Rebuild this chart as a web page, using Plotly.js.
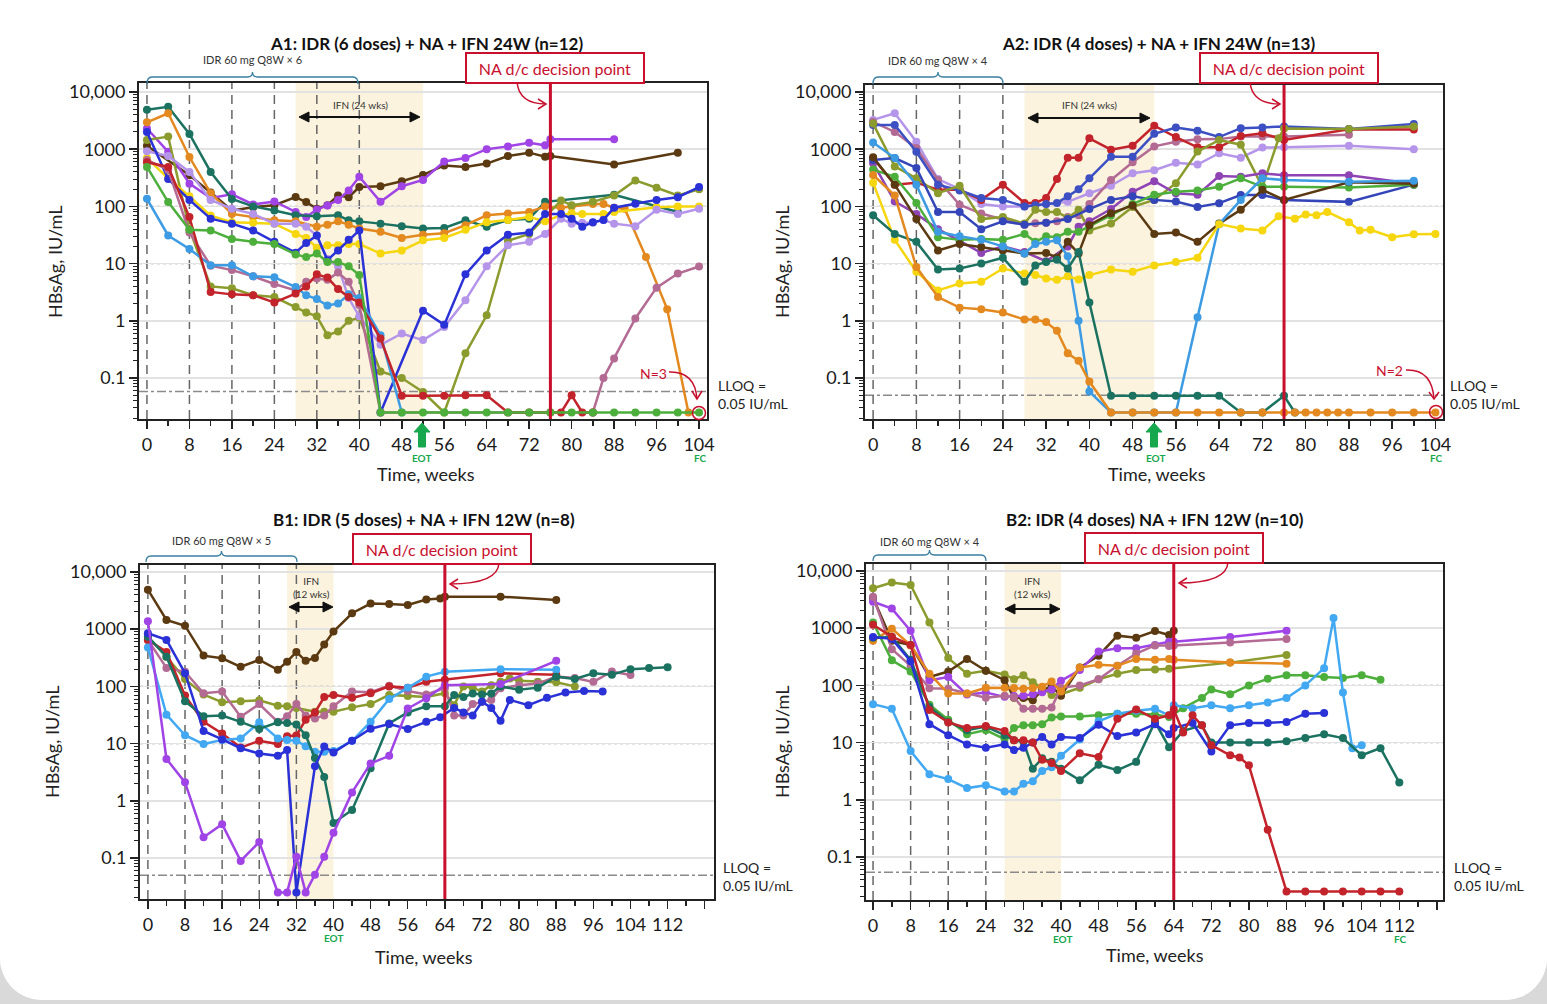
<!DOCTYPE html>
<html><head><meta charset="utf-8">
<script src="https://cdn.plot.ly/plotly-3.0.1.min.js"></script>
<style>
html,body{margin:0;padding:0;background:#d9d9d9;}
#card{width:1547px;height:1000px;overflow:hidden;border-radius:0 0 42px 42px;background:#fff;}
#plot{width:1547px;height:1004px;}
</style></head><body>
<div id="card"><div id="plot"></div></div>
<script>
// ---------------- DATA (week, HBsAg IU/mL) ----------------
// Panel A1
const a1Teal = [[0,4900],[4,5500],[8,1850],[12,400],[16,135],[20,100],[24,85],[28,70],[32,67],[36,70],[38,57],[40,55],[44,50],[48,45],[52,41],[56,42],[60,57],[64,44],[68,58],[72,61],[75,120],[88,160],[100,80]];
const a1Orange = [[0,2950],[4,4250],[8,730],[12,170],[16,74],[20,65],[24,57],[28,55],[32,44],[34,48],[36,55],[38,48],[40,41],[44,36],[48,28],[52,32],[56,34],[60,47],[64,70],[68,75],[72,80],[75,100],[78,95],[80,100],[84,110],[86,110],[88,95],[90,91],[94,13],[98,1.6],[102,0.025]];
const a1Purple = [[0,2300],[4,900],[8,250],[12,140],[16,163],[20,108],[24,122],[28,80],[30,65],[32,88],[34,104],[36,130],[38,190],[40,330],[44,120],[48,225],[52,290],[56,610],[60,700],[64,1000],[68,1120],[72,1300],[75,1170],[76,1490],[88,1490]];
const a1Olive = [[0,1450],[4,1660],[8,40],[12,4.0],[16,3.7],[20,2.8],[24,2.6],[28,1.75],[30,1.4],[32,1.2],[34,0.56],[36,0.65],[38,1.0],[40,1.13],[44,0.13],[48,0.1],[52,0.057],[56,0.025],[60,0.27],[64,1.25],[68,25],[72,33],[78,127],[80,105],[84,120],[88,155],[92,285],[96,212],[100,155],[104,200]];
const a1Brown = [[0,1150],[8,350],[12,175],[16,85],[20,97],[24,105],[28,146],[30,119],[32,91],[34,105],[36,155],[38,145],[40,218],[44,225],[48,275],[52,355],[56,520],[60,490],[64,560],[68,760],[72,870],[75,740],[76,760],[88,540],[100,870]];
const a1Blue = [[0,2000],[4,300],[8,130],[12,61],[16,50],[20,38],[24,24],[28,15.5],[30,23],[32,31],[34,11.5],[36,17],[38,26],[40,38],[44,0.025],[52,1.5],[56,0.85],[60,6.5],[64,17],[68,32],[72,35],[75,74],[78,74],[80,61],[82,44],[84,53],[86,58],[88,95],[92,111],[96,130],[100,145],[104,218]];
const a1Red = [[0,590],[4,490],[8,65],[12,3.2],[16,2.9],[20,2.8],[24,2.1],[28,3.0],[30,4.0],[32,6.5],[34,5.7],[36,3.6],[38,2.6],[40,2.1],[44,0.49],[48,0.049],[52,0.049],[56,0.049],[60,0.05],[64,0.05],[68,0.025],[72,0.025],[76,0.025],[78,0.025],[80,0.05],[82,0.025],[84,0.025]];
const a1Yellow = [[0,700],[4,310],[8,150],[12,69],[16,53],[20,52],[24,50],[28,33],[30,28],[32,19],[34,21],[36,21],[38,22],[40,22],[44,15],[48,17],[52,25.5],[56,28],[60,39],[64,53],[68,58],[72,65],[75,55],[78,70],[80,76],[82,74],[86,74],[88,80],[96,97],[100,100],[104,100]];
const a1Lavender = [[0,920],[4,760],[8,400],[12,130],[16,91],[20,74],[24,50],[28,50],[30,44],[32,31],[34,12],[36,9],[38,2.5],[40,1.2],[44,0.38],[48,0.6],[52,0.46],[56,0.78],[60,2.3],[64,9],[68,21],[72,24],[75,33],[78,61],[80,50],[82,52],[84,52],[86,58],[88,50],[92,45],[96,87],[100,74],[104,91]];
const a1LightBlue = [[0,136],[4,31],[8,18],[12,9.4],[16,9.4],[20,6.0],[24,5.8],[28,3.9],[30,2.8],[32,2.4],[34,1.85],[36,2.0],[38,2.9],[40,2.5],[44,0.56],[48,0.025]];
const a1Mauve = [[0,650],[4,435],[8,35],[12,9.2],[16,7.7],[20,6],[24,4.4],[28,3.4],[30,4.8],[32,5.5],[34,5.2],[36,7.0],[38,4.8],[40,1.9],[44,0.025],[84,0.025],[86,0.1],[88,0.22],[92,1.1],[96,3.8],[100,6.7],[104,8.9]];
const a1Green = [[0,490],[4,119],[8,39],[12,38],[16,27],[20,24],[24,22],[28,14.5],[30,13],[32,15],[34,10.7],[36,10.7],[38,9],[40,6.3],[44,0.025],[48,0.025],[52,0.025],[56,0.025],[60,0.025],[64,0.025],[68,0.025],[72,0.025],[76,0.025],[80,0.025],[84,0.025],[88,0.025],[92,0.025],[96,0.025],[100,0.025],[104,0.025]];
// Panel A2
const a2Red = [[0,700],[4,240],[8,260],[12,195],[16,195],[20,130],[24,240],[28,115],[30,115],[32,140],[34,300],[36,710],[38,710],[40,1550],[44,980],[48,1150],[52,2570],[56,1630],[60,1080],[64,1080],[68,1700],[72,1900],[76,1450],[88,2230],[100,2200]];
const a2Blue1 = [[0,2650],[4,2650],[8,900],[12,240],[16,190],[20,140],[24,130],[28,100],[30,105],[32,110],[34,115],[36,150],[38,200],[40,310],[44,740],[48,740],[52,1860],[56,2400],[60,2100],[64,1630],[68,2330],[72,2400],[76,2500],[88,2250],[100,2770]];
const a2Blue2 = [[0,650],[4,700],[8,470],[12,80],[16,80],[20,40],[24,55],[28,48],[32,52],[36,60],[40,90],[44,130],[48,150],[52,130],[56,122],[60,98],[64,114],[68,158],[72,158],[76,130],[88,120],[100,240]];
const a2Mauve = [[0,3000],[4,2000],[8,1050],[12,290],[16,107],[20,75],[24,59],[28,48],[30,51],[32,52],[34,55],[36,65],[38,70],[40,110],[44,290],[48,590],[52,1120],[56,1350],[60,1490],[64,1500],[68,1660],[72,1660],[76,1660],[88,1780]];
const a2Lavender = [[0,3250],[4,4250],[8,1350],[12,300],[16,200],[20,110],[24,100],[28,100],[32,110],[36,120],[40,170],[44,230],[48,380],[52,430],[56,580],[60,540],[64,850],[68,710],[72,1070],[76,1080],[88,1150],[100,1000]];
const a2Olive = [[0,2800],[4,500],[8,310],[12,170],[16,230],[20,60],[24,65],[28,50],[30,87],[32,80],[34,80],[36,63],[38,87],[40,38],[44,50],[48,98],[52,130],[56,255],[60,910],[64,1450],[68,1200],[72,220],[75,1550],[76,2300],[88,2250],[100,2500]];
const a2Purple = [[0,570],[4,122],[8,74],[12,40],[16,25],[20,15.4],[24,20],[28,16],[32,11],[36,20],[38,44],[40,55],[44,90],[48,180],[52,275],[56,170],[60,160],[64,340],[68,330],[72,380],[76,350],[88,350],[100,250]];
const a2LightBlue = [[0,1310],[4,700],[8,240],[12,36],[16,30],[20,26],[24,20],[28,15],[30,22],[32,24],[34,25.5],[36,13.5],[38,1.0],[40,0.058],[44,0.025],[48,0.025],[52,0.025],[56,0.025],[60,1.15],[64,49],[68,130],[72,310],[76,290],[88,270],[100,280]];
const a2Green = [[0,440],[4,330],[8,115],[12,29],[16,26],[20,27],[24,26],[28,33],[30,24],[32,30],[34,29],[36,36],[38,36],[40,45],[44,69],[48,110],[52,160],[56,180],[60,190],[64,220],[68,310],[72,220],[76,220],[88,215],[100,240]];
const a2Brown = [[0,720],[4,240],[8,60],[12,17],[16,22],[20,19.5],[24,17],[28,15],[32,15.4],[34,12.8],[36,24],[38,15],[40,47],[44,76],[48,104],[52,33],[56,35],[60,24],[64,50],[68,87],[72,195],[76,130],[88,265],[100,250]];
const a2Teal = [[0,70],[4,33],[8,24],[12,7.9],[16,8.2],[20,10],[24,12.7],[28,4.8],[30,9.3],[32,10.7],[34,11.7],[36,8.2],[38,16],[40,2.1],[44,0.049],[48,0.049],[52,0.049],[56,0.049],[60,0.049],[64,0.049],[68,0.025],[72,0.025],[76,0.049],[78,0.025]];
const a2Yellow = [[0,260],[4,26],[8,7.2],[12,3.4],[16,4.5],[20,4.8],[24,8.2],[28,6.7],[30,6.3],[32,5.5],[34,5.2],[36,6.0],[38,5.3],[40,6.3],[44,7.9],[48,7.2],[52,9.3],[56,10.7],[60,12.7],[64,49],[68,41],[72,38],[75,67],[78,61],[80,72],[82,70],[84,80],[88,53],[90,38],[92,39],[96,29],[100,32.5],[104,33]];
const a2Orange = [[0,355],[4,155],[8,8.7],[12,2.6],[16,1.7],[20,1.6],[24,1.4],[28,1.05],[30,1.05],[32,0.95],[34,0.67],[36,0.27],[38,0.2],[40,0.087],[44,0.025],[48,0.025],[52,0.025],[56,0.025],[60,0.025],[64,0.025],[68,0.025],[72,0.025],[76,0.025],[78,0.025],[80,0.025],[82,0.025],[84,0.025],[86,0.025],[88,0.025],[92,0.025],[96,0.025],[100,0.025],[104,0.025]];
// Panel B1
const b1Brown = [[0,4900],[4,1450],[8,1150],[12,345],[16,310],[20,220],[24,290],[28,195],[30,270],[32,400],[34,280],[36,315],[38,540],[40,910],[44,1900],[48,2800],[52,2750],[56,2650],[60,3300],[63,3450],[64,3700],[76,3700],[88,3240]];
const b1Purple = [[0,1380],[4,5.4],[8,2.1],[12,0.23],[16,0.39],[20,0.089],[24,0.19],[28,0.025],[30,0.025],[32,0.105],[34,0.025],[36,0.051],[38,0.105],[40,0.275],[44,1.4],[48,4.5],[52,6.1],[56,41],[60,62],[64,105],[76,110],[88,280]];
const b1Blue = [[0,850],[4,650],[8,170],[12,16.6],[16,11.8],[20,8.3],[24,6.7],[28,6.1],[30,7.7],[32,0.025],[36,4.0],[38,8.9],[40,7.0],[44,11.2],[48,18.2],[52,22],[56,18],[60,24],[63,29],[66,42],[68,35],[70,31],[72,54],[74,42],[76,25],[78,58],[82,47],[86,63],[90,78],[94,83],[98,81]];
const b1Teal = [[0,740],[4,330],[8,55],[12,30],[16,31],[20,24],[24,18],[28,23.5],[30,23],[32,21.5],[34,14],[36,5.6],[38,2.6],[40,0.41],[44,0.69],[48,3.7],[52,22.5],[56,35],[60,45],[64,45],[66,71],[68,65],[70,75],[72,72],[74,75],[76,100],[80,87],[84,95],[88,148],[92,135],[96,170],[100,160],[104,200],[108,210],[112,215]];
const b1Red = [[0,650],[4,400],[8,69],[12,24],[16,15],[20,8.5],[24,11.2],[28,9.8],[30,13.5],[32,13.9],[34,26],[36,35],[38,65],[40,71],[44,63],[48,76],[52,100],[56,95],[60,120],[64,130],[76,170],[88,160]];
const b1LightBlue = [[0,480],[4,32],[8,14],[12,9.8],[16,11.6],[20,12.3],[24,23.5],[28,12.3],[30,11.5],[32,11.2],[34,9],[36,7.2],[38,7.2],[40,7.4],[44,11.2],[48,24],[52,60],[56,95],[60,148],[64,180],[76,200],[88,195]];
const b1Olive = [[0,740],[4,330],[8,134],[12,72],[16,53],[20,55],[24,57],[28,46],[30,45],[32,42],[36,36],[38,36],[40,36],[44,43],[48,49],[52,71],[56,68],[60,65],[64,76],[66,47],[68,100],[70,95],[72,81],[74,105],[76,120],[78,138],[80,125],[84,120],[88,118],[92,100]];
const b1Mauve = [[0,650],[4,210],[8,180],[12,76],[16,81],[20,29.5],[24,49],[28,24],[30,30],[32,49],[34,31],[36,27.5],[38,31],[40,45],[44,81],[48,79],[52,103],[56,83],[60,72],[64,93],[66,31],[68,31],[70,49],[72,54],[74,58],[76,93],[80,105],[84,112],[88,148],[92,140],[96,120],[100,182],[104,158]];
// Panel B2
const b2Olive = [[0,5000],[4,6300],[8,5700],[12,1260],[16,300],[20,160],[24,180],[28,155],[30,128],[32,150],[34,113],[36,91],[38,68],[40,70],[44,91],[48,128],[52,160],[56,185],[60,190],[63,195],[76,250],[88,340]];
const b2Brown = [[0,3400],[4,600],[8,510],[12,140],[16,175],[20,290],[24,180],[28,123],[30,61],[32,60],[34,55],[36,83],[38,96],[40,66],[44,205],[48,330],[52,740],[56,680],[60,890],[63,760],[64,900]];
const b2Purple = [[0,2900],[4,2200],[8,900],[12,123],[16,140],[20,69],[24,75],[28,63],[30,65],[32,66],[34,70],[36,76],[38,85],[40,120],[44,185],[48,390],[52,445],[56,445],[60,510],[63,580],[64,580],[76,700],[88,900]];
const b2Mauve = [[0,3560],[4,430],[8,220],[12,89],[16,87],[20,72],[24,61],[28,66],[30,62],[32,39],[34,39],[36,39],[38,41],[40,91],[44,100],[48,128],[52,220],[56,360],[60,500],[63,490],[64,500],[76,560],[88,650]];
const b2Orange = [[0,600],[4,980],[8,500],[12,160],[16,72],[20,72],[24,91],[28,91],[30,90],[32,87],[34,90],[36,95],[38,117],[40,78],[44,205],[48,230],[52,220],[56,290],[60,280],[63,290],[64,280],[76,250],[88,240]];
const b2Green = [[0,1260],[4,275],[8,175],[12,46],[16,25],[20,14],[24,16.5],[28,11.5],[30,18],[32,20],[34,20],[36,21],[38,27.5],[40,28.5],[44,28.5],[48,30],[52,32],[56,32],[60,31],[63,28],[66,40],[70,60],[72,85],[76,70],[80,100],[84,130],[88,150],[92,150],[96,140],[100,135],[104,150],[108,125]];
const b2LightBlue = [[0,47],[4,39],[8,7.1],[12,2.8],[16,2.3],[20,1.6],[24,1.8],[28,1.4],[30,1.4],[32,1.9],[34,2.1],[36,3.2],[38,3.7],[40,5.9],[44,11.3],[48,23.5],[52,32],[56,36],[60,39],[63,30],[64,45],[68,40],[72,45],[76,40],[80,45],[84,50],[88,60],[92,100],[96,200],[98,1500],[100,75],[102,8],[104,9]];
const b2Red = [[0,1150],[4,710],[8,510],[12,37],[16,22.5],[20,18],[24,19.5],[28,16],[30,11],[32,11],[34,10],[36,5],[38,4.4],[40,3.2],[44,6.5],[48,5.6],[52,26],[56,38],[60,26],[63,30],[64,38],[66,15],[68,30],[70,20],[72,9],[76,6],[78,5.5],[80,4],[84,0.3],[88,0.025],[92,0.025],[96,0.025],[100,0.025],[104,0.025],[108,0.025],[112,0.025]];
const b2Teal = [[0,680],[4,700],[8,280],[12,42],[16,23],[20,16.5],[24,19],[28,13.5],[30,11],[32,10.3],[34,3.5],[36,5.3],[38,4.6],[40,3.5],[44,2.2],[48,4.1],[52,3.3],[56,4.6],[60,23],[63,8.3],[66,16],[70,20],[72,10],[76,10],[80,10],[84,10],[88,10.5],[92,12],[96,14],[100,12],[104,6],[108,8],[112,2.0]];
const b2Blue = [[0,700],[4,650],[8,265],[12,21],[16,13.5],[20,9.3],[24,8.1],[28,9.3],[30,7.4],[32,8.1],[34,10],[36,12.5],[38,9.3],[40,12.5],[44,12],[48,20.5],[52,13],[56,15],[60,21],[63,14],[64,18],[68,22],[72,7],[76,20],[80,22],[84,22],[88,23],[92,32],[96,33]];

// study design
const doseWeeksA1 = [0,8,16,24,32,40], doseWeeksA2 = [0,8,16,24], doseWeeksB1 = [0,8,16,24,32], doseWeeksB2 = [0,8,16,24];
const ifnA1 = [28,52], ifnA2 = [28,52], ifnB1 = [30,40], ifnB2 = [28,40];
const decisionA = 76, decisionB = 64;
const titles = ['A1: IDR (6 doses) + NA + IFN 24W (n=12)','A2: IDR (4 doses) + NA + IFN 24W (n=13)','B1: IDR (5 doses) + NA + IFN 12W (n=8)','B2: IDR (4 doses) NA + IFN 12W (n=10)'];
const yTickVals = [0.1,1,10,100,1000,10000];
const yTickText = ['0.1','1','10','100','1000','10,000'];
const dottedGrid = [10,100];

// ---------------- STYLE ----------------
const C = {teal:'#1b7261',orange:'#e3891f',purple:'#a044e6',olive:'#8c9b2d',brown:'#5b3a12',blue:'#2a31d6',red:'#c3232b',yellow:'#f5d60f',lavender:'#b595ea',green:'#4caf3c',lightblue:'#3d9be3',mauve:'#b36b93',steel:'#3d50c3',steel2:'#3345b8',purple2:'#8e44b4'};
const W=1547,H=1004;
const PX=x=>x/W, PY=y=>1-y/H;
const FONT='Lato, "Open Sans", sans-serif';
const RED='#c8102e', GREENT='#17a84e';

const panels = [
  {xa:'x', ya:'y', series:[[a1Brown,C.brown],[a1Purple,C.purple],[a1Teal,C.teal],[a1Orange,C.orange],[a1Olive,C.olive],[a1Yellow,C.yellow],[a1Lavender,C.lavender],[a1Blue,C.blue],[a1Mauve,C.mauve],[a1LightBlue,C.lightblue],[a1Red,C.red],[a1Green,C.green]],
   doses:doseWeeksA1, ifn:ifnA1, dec:decisionA, lloq:0.058},
  {xa:'x2', ya:'y2', series:[[a2Lavender,C.lavender],[a2Mauve,C.mauve],[a2Red,C.red],[a2Blue1,C.steel],[a2Olive,C.olive],[a2Purple,C.purple2],[a2Blue2,C.steel2],[a2Green,C.green],[a2Brown,C.brown],[a2LightBlue,C.lightblue],[a2Yellow,C.yellow],[a2Teal,C.teal],[a2Orange,C.orange]],
   doses:doseWeeksA2, ifn:ifnA2, dec:decisionA, lloq:0.05},
  {xa:'x3', ya:'y3', series:[[b1Brown,C.brown],[b1Olive,C.olive],[b1Mauve,C.mauve],[b1Red,C.red],[b1LightBlue,'#42a8f2'],[b1Teal,C.teal],[b1Blue,C.blue],[b1Purple,C.purple]],
   doses:doseWeeksB1, ifn:ifnB1, dec:decisionB, lloq:0.05},
  {xa:'x4', ya:'y4', series:[[b2Olive,C.olive],[b2Brown,C.brown],[b2Purple,C.purple],[b2Mauve,C.mauve],[b2Orange,C.orange],[b2Green,C.green],[b2LightBlue,'#42a8f2'],[b2Teal,C.teal],[b2Blue,C.blue],[b2Red,C.red]],
   doses:doseWeeksB2, ifn:ifnB2, dec:decisionB, lloq:0.054}
];

const traces=[];
panels.forEach(p=>{
  p.series.forEach(([d,col])=>{
    traces.push({x:d.map(v=>v[0]), y:d.map(v=>v[1]), xaxis:p.xa, yaxis:p.ya, type:'scatter', mode:'lines+markers',
      line:{color:col,width:2.5}, marker:{color:col,size:8}, showlegend:false, hoverinfo:'skip', cliponaxis:true});
  });
});

// axes
const yMinor=[]; for(let d=-2; d<=3; d++){ for(let k=2;k<=9;k++){ yMinor.push(k*Math.pow(10,d)); } }
function xAx(domain, range, maxLab, maxTick){
  const tv=[], tt=[]; for(let w=0; w<=maxTick; w+=8){ tv.push(w); tt.push(w<=maxLab? String(w):''); }
  return {domain, range, tickmode:'array', tickvals:tv, ticktext:tt, ticks:'outside', ticklen:8, tickwidth:1.5, tickcolor:'#222',
    showline:true, linecolor:'#222', linewidth:2, mirror:true, showgrid:false, zeroline:false,
    tickfont:{family:FONT,size:18,color:'#1a1a1a'},
    minor:{tickmode:'linear', tick0:0, dtick:4, ticks:'outside', ticklen:5, tickwidth:1.5, tickcolor:'#222', showgrid:false}};
}
function yAx(domain, range){
  return {domain, range, type:'log', tickmode:'array', tickvals:yTickVals, ticktext:yTickText, ticks:'outside', ticklen:8, tickwidth:1.5, tickcolor:'#222',
    showline:true, linecolor:'#222', linewidth:2, mirror:true, showgrid:true, gridcolor:'#e2e2e2', gridwidth:1.5, zeroline:false,
    tickfont:{family:FONT,size:18,color:'#1a1a1a'},
    minor:{tickmode:'array', tickvals:yMinor, ticks:'outside', ticklen:4, tickwidth:1, tickcolor:'#222', showgrid:false}};
}
const layout = {width:W, height:H, margin:{l:0,r:0,t:0,b:0}, paper_bgcolor:'#fff', plot_bgcolor:'#fff', showlegend:false, font:{family:FONT,color:'#222'},
  xaxis: Object.assign(xAx([PX(139),PX(707)],[-1.5,105.5],104,104),{anchor:'y'}),
  yaxis: Object.assign(yAx([PY(419),PY(83)],[-1.716,4.157]),{anchor:'x'}),
  xaxis2: Object.assign(xAx([PX(865),PX(1443)],[-1.5,105.4],104,104),{anchor:'y2'}),
  yaxis2: Object.assign(yAx([PY(419),PY(85)],[-1.716,4.122]),{anchor:'x2'}),
  xaxis3: Object.assign(xAx([PX(140),PX(714)],[-1.7,122],112,120),{anchor:'y3'}),
  yaxis3: Object.assign(yAx([PY(899),PY(565)],[-1.717,4.122]),{anchor:'x3'}),
  xaxis4: Object.assign(xAx([PX(866),PX(1443)],[-1.5,121.3],112,120),{anchor:'y4'}),
  yaxis4: Object.assign(yAx([PY(900),PY(564)],[-1.752,4.122]),{anchor:'x4'}),
  shapes:[], annotations:[]
};

const S=layout.shapes, A=layout.annotations;
// per-panel plot decorations in data coordinates
panels.forEach(p=>{
  const yd = p.ya+' domain', xd = p.xa+' domain';
  S.push({type:'rect', layer:'below', xref:p.xa, yref:yd, x0:p.ifn[0], x1:p.ifn[1], y0:0, y1:1, fillcolor:'#fcf3de', line:{width:0}});
  dottedGrid.forEach(v=>S.push({type:'line', layer:'below', xref:xd, yref:p.ya, x0:0, x1:1, y0:v, y1:v, line:{color:'#9a9a9a', width:1.2, dash:'dot'}}));
  S.push({type:'line', layer:'below', xref:xd, yref:p.ya, x0:0, x1:1, y0:p.lloq, y1:p.lloq, line:{color:'#8a8a8a', width:1.5, dash:'dashdot'}});
  p.doses.forEach(w=>S.push({type:'line', layer:'below', xref:p.xa, yref:yd, x0:w, x1:w, y0:0, y1:1, line:{color:'#666', width:1.5, dash:'9px,6px'}}));
  S.push({type:'line', xref:p.xa, yref:yd, x0:p.dec, x1:p.dec, y0:0, y1:1, line:{color:RED, width:3}});
});

function pathPx(cmds, color, width, fill){
  let s=''; cmds.forEach(c=>{ if(typeof c==='string') s+=c+' '; else s+=PX(c[0]).toFixed(5)+','+PY(c[1]).toFixed(5)+' '; });
  S.push({type:'path', xref:'paper', yref:'paper', path:s.trim(), line:{color:color, width:width}, fillcolor:fill||'rgba(0,0,0,0)'});
}
function text(x,y,t,size,color,opts){ A.push(Object.assign({xref:'paper', yref:'paper', x:PX(x), y:PY(y), text:t, showarrow:false, xanchor:'center', yanchor:'middle', font:{family:FONT,size:size,color:color}}, opts||{})); }

// panel titles
text(426,44,'<b>'+titles[0]+'</b>',17,'#111');
text(1158,44,'<b>'+titles[1]+'</b>',17,'#111');
text(424,519,'<b>'+titles[2]+'</b>',17,'#111');
text(1155,519,'<b>'+titles[3]+'</b>',17,'#111');

// NA d/c boxes
[[555,68],[1289,68],[442,549],[1174,548]].forEach(([x,y])=>text(x,y,'NA d/c decision point',16,RED,{bordercolor:RED,borderwidth:2,borderpad:4,bgcolor:'#fff',width:168,height:20}));
function curve(x0,y0,cx,cy,x1,y1,d){
  pathPx(['M',[x0,y0],'Q',[cx,cy],[x1,y1]],RED,1.5);
  pathPx(['M',[x1-8*d,y1-5],'L',[x1,y1],'L',[x1-8*d,y1+5]],RED,1.5);
}
curve(517,82,519,104,546,104,1);
curve(1250,82,1252,104,1280,104,1);
curve(499,563,498,584,450,584,-1);
curve(1228,562,1227,583,1179,583,-1);

// IDR brackets
function bracket(x0,x1,y,yEnd,label,ly){
  const xm=(x0+x1)/2, col='#3a7ea0';
  pathPx(['M',[x0,yEnd],'Q',[x0,y],[x0+5,y],'L',[xm-5,y],'Q',[xm,y],[xm,y-5],'Q',[xm,y],[xm+5,y],'L',[x1-5,y],'Q',[x1,y],[x1,yEnd]],col,1.3);
  text(xm,ly,label,11,'#333');
}
bracket(147,358,77,84,'IDR 60 mg Q8W × 6',60);
bracket(873,1003,77,84,'IDR 60 mg Q8W × 4',61);
bracket(146,297,556,562,'IDR 60 mg Q8W × 5',540);
bracket(873,986,555,561,'IDR 60 mg Q8W × 4',541);

// IFN double arrows
function dbl(x0,x1,y){
  pathPx(['M',[x0+6,y],'L',[x1-6,y]],'#111',2);
  pathPx(['M',[x0,y],'L',[x0+10,y-5],'L',[x0+10,y+5],'Z'],'#111',1,'#111');
  pathPx(['M',[x1,y],'L',[x1-10,y-5],'L',[x1-10,y+5],'Z'],'#111',1,'#111');
}
dbl(299,420,117); text(360,105,'IFN (24 wks)',10,'#333');
dbl(1028,1150,118); text(1089,105,'IFN (24 wks)',10,'#333');
dbl(289,333,607); text(311,587,'IFN<br>(12 wks)',10,'#333');
dbl(1005,1060,609); text(1032,587,'IFN<br>(12 wks)',10,'#333');

// EOT arrows and labels
function eot(x){
  pathPx(['M',[x,423],'L',[x+8,432],'L',[x+3.5,432],'L',[x+3.5,447],'L',[x-3.5,447],'L',[x-3.5,432],'L',[x-8,432],'Z'],GREENT,1,GREENT);
}
eot(422); eot(1154);
text(422,458,'<b>EOT</b>',10,GREENT); text(1155,458,'<b>EOT</b>',10,GREENT);
text(333,938,'<b>EOT</b>',10,GREENT); text(1062,939,'<b>EOT</b>',10,GREENT);
text(700,458,'<b>FC</b>',10,GREENT); text(1436,458,'<b>FC</b>',10,GREENT); text(1400,939,'<b>FC</b>',10,GREENT);

// N= annotations
text(653,373,'N=3',14,RED);
pathPx(['M',[669,372],'Q',[695,371],[697,399]],RED,1.5);
pathPx(['M',[692,391],'L',[697,399],'L',[702,391]],RED,1.5);
S.push({type:'circle', xref:'paper', yref:'paper', x0:PX(692.5), x1:PX(705.5), y0:PY(419.5), y1:PY(406.5), line:{color:RED,width:1.5}});
text(1389,370,'N=2',14,RED);
pathPx(['M',[1406,370],'Q',[1432,369],[1434,399]],RED,1.5);
pathPx(['M',[1429,392],'L',[1434,399],'L',[1439,392]],RED,1.5);
S.push({type:'circle', xref:'paper', yref:'paper', x0:PX(1429.5), x1:PX(1442.5), y0:PY(418.5), y1:PY(405.5), line:{color:RED,width:1.5}});

// LLOQ labels
[[716,394],[1448,394],[721,876],[1452,876]].forEach(([x,y])=>text(x,y,'LLOQ =<br>0.05 IU/mL',14,'#222',{xanchor:'left',align:'left'}));

// axis titles
[[55,262],[782,262],[52,742],[782,742]].forEach(([x,y])=>text(x,y,'HBsAg, IU/mL',18,'#222',{textangle:-90}));
[[426,474],[1157,474],[424,957],[1155,955]].forEach(([x,y])=>text(x,y,'Time, weeks',18,'#222'));

Plotly.newPlot('plot', traces, layout, {staticPlot:true, displayModeBar:false});
</script></body></html>
